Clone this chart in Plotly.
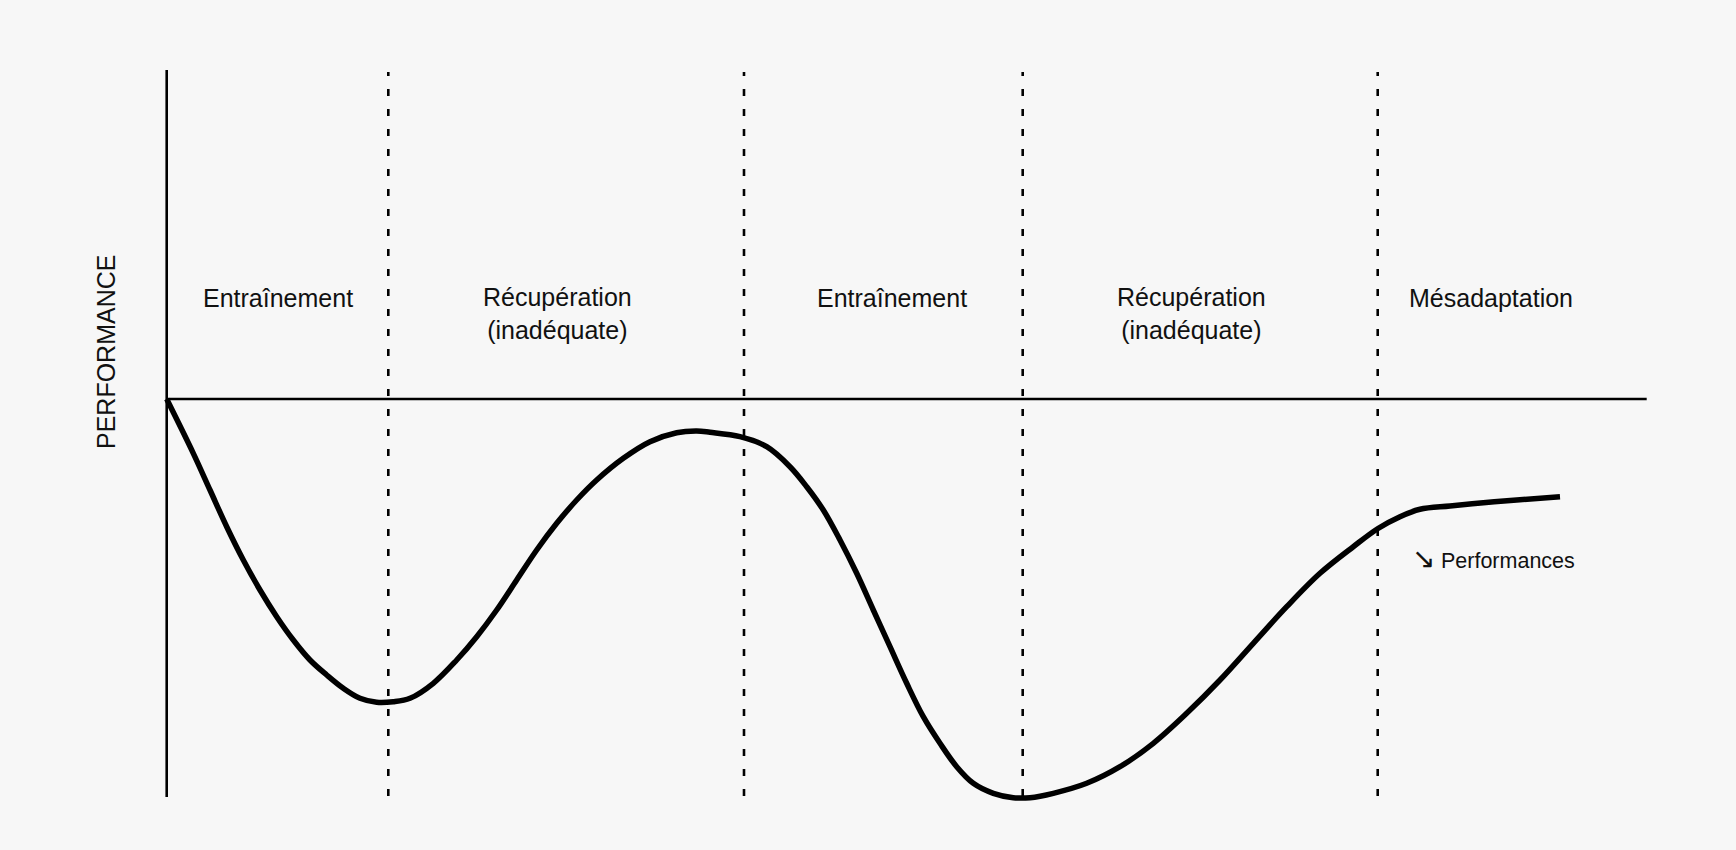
import plotly.graph_objects as go

# Performance curve (time units, performance relative to baseline = 0)
time = [0, 2.66, 4.33, 6.0, 7.66, 9.33, 11.0, 12.66, 14.33, 16.0, 17.66, 19.33, 21.0, 22.66,
        24.33, 26.66, 29.0, 31.0, 33.0, 35.0, 37.0, 39.0, 41.0, 43.0, 45.66, 48.33, 51.0, 53.0,
        54.33, 57.33, 60.0, 62.33, 64.0, 65.66, 67.33, 69.0, 70.66, 72.33, 74.0, 75.66, 77.33,
        79.0, 80.66, 82.66, 84.66, 86.33, 88.66, 92.0, 95.33, 98.66, 102.0, 105.33, 108.66,
        112.0, 115.33, 118.66, 121.13, 123.33, 125.33, 128.33, 131.66, 135.0, 139.33]
performance = [0, -5.43, -9.1, -12.77, -16.1, -19.1, -21.77, -24.1, -26.1, -27.6, -28.93, -29.93,
               -30.33, -30.27, -29.93, -28.43, -26.1, -23.77, -21.1, -18.1, -15.1, -12.43, -10.1,
               -8.1, -5.93, -4.27, -3.37, -3.2, -3.33, -3.77, -4.77, -6.77, -8.77, -11.1, -14.1,
               -17.43, -21.1, -24.77, -28.43, -31.77, -34.43, -36.77, -38.43, -39.43, -39.87,
               -39.87, -39.43, -38.43, -36.77, -34.43, -31.43, -28.1, -24.43, -20.77, -17.43,
               -14.77, -12.95, -11.77, -11.03, -10.7, -10.37, -10.1, -9.77]

# Phase boundaries and labels
phase_bounds = [22.16, 57.73, 85.6, 121.1]
phase_labels = ["Entraînement", "Récupération<br>(inadéquate)", "Entraînement",
                "Récupération<br>(inadéquate)", "Mésadaptation"]
phase_label_x = [11.12, 39.07, 72.56, 102.5, 132.4]

axis_top = 32.9
axis_bottom = -39.8
baseline_end = 148.0

FONT = "Liberation Sans, Arial, Helvetica, sans-serif"
BG = "#f7f7f7"

fig = go.Figure()
fig.add_trace(go.Scatter(
    x=time, y=performance, mode="lines",
    line=dict(color="#000000", width=5.5, shape="spline", smoothing=1.0),
    hoverinfo="skip", showlegend=False,
))

shapes = []
# vertical axis
shapes.append(dict(type="line", xref="x", yref="y", x0=0, x1=0, y0=axis_bottom, y1=axis_top,
                   line=dict(color="#000000", width=2.6), layer="above"))
# baseline
shapes.append(dict(type="line", xref="x", yref="y", x0=0, x1=baseline_end, y0=0, y1=0,
                   line=dict(color="#000000", width=2.6), layer="below"))
# phase separators
for xb in phase_bounds:
    shapes.append(dict(type="line", xref="x", yref="y", x0=xb, x1=xb, y0=axis_bottom + 0.1,
                       y1=axis_top - 0.2,
                       line=dict(color="#000000", width=2.6, dash="7px,13px"), layer="below"))

annotations = []
for lab, xl in zip(phase_labels, phase_label_x):
    two = "<br>" in lab
    annotations.append(dict(x=xl, y=8.57 if two else 10.1, xref="x", yref="y", text=lab,
                             showarrow=False, xanchor="center", yanchor="middle",
                             font=dict(family=FONT, size=25, color="#111111")))
annotations.append(dict(x=124.3, y=-15.9, xref="x", yref="y",
                        text="<span style='font-size:28px'>↘</span> Performances",
                        showarrow=False, xanchor="left", yanchor="middle",
                        font=dict(family=FONT, size=21.5, color="#111111")))
annotations.append(dict(x=0, y=(399 - 352) / 10, xref="paper", yref="y", xshift=-34,
                        text="PERFORMANCE", textangle=-90, showarrow=False,
                        xanchor="center", yanchor="middle",
                        font=dict(family=FONT, size=25, color="#111111")))

fig.update_layout(
    width=1736, height=850,
    margin=dict(l=140, r=56, t=60, b=20),
    paper_bgcolor=BG, plot_bgcolor=BG,
    xaxis=dict(range=[-2.67, 151.33], visible=False, fixedrange=True),
    yaxis=dict(range=[-43.1, 33.9], visible=False, fixedrange=True),
    shapes=shapes, annotations=annotations,
    showlegend=False,
)

fig.write_html(
    "out.html",
    config={"displayModeBar": False},
    post_script="document.body.style.margin='0';document.body.style.background='%s';"
                "document.documentElement.style.background='%s';" % (BG, BG),
)
